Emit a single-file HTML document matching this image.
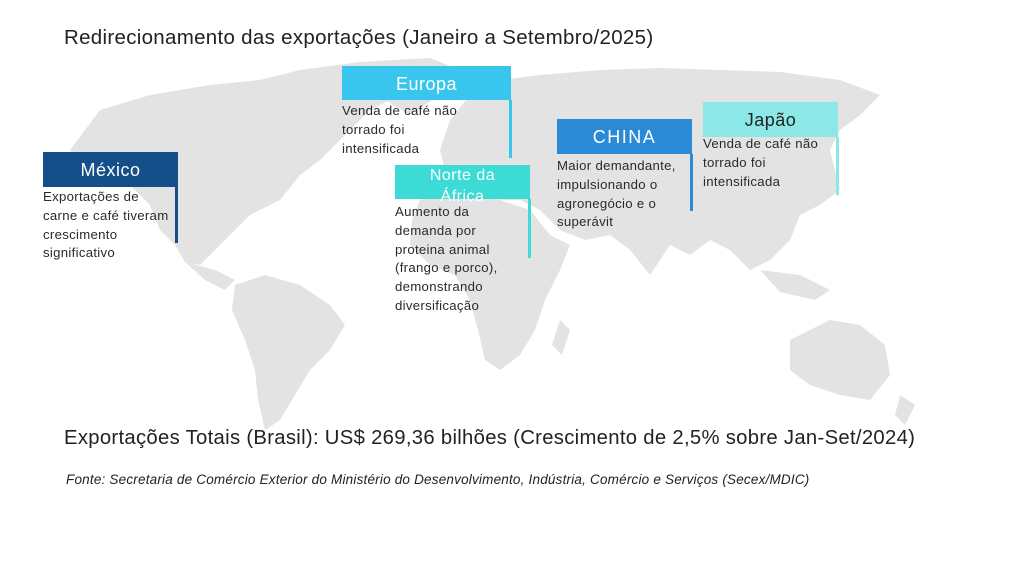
<!DOCTYPE html>
<html><head><meta charset="utf-8"><style>
body{margin:0;width:1024px;height:576px;background:#fff;position:relative;overflow:hidden;font-family:"Liberation Sans",sans-serif;}
.t{position:absolute;white-space:nowrap;color:#222}
.hd{position:absolute;color:#fff;text-align:center;font-size:18px;letter-spacing:0.5px}
.ln{position:absolute;width:3px}
.bd{position:absolute;font-size:13.2px;line-height:18.8px;color:#2a2a2a;letter-spacing:0.3px;white-space:nowrap}
</style></head><body>
<svg width="1024" height="576" style="position:absolute;left:0;top:0">
<g fill="#e3e3e3">
<path d="M70,150 L100,110 L150,95 L210,85 L260,80 L300,70 L360,62 L420,62 L430,75 L400,95 L370,110 L340,140 L320,160 L300,175 L280,200 L250,215 L230,235 L215,250 L200,265 L185,262 L175,245 L160,230 L150,205 L130,185 L110,170 L85,165 Z"/>
<path d="M240,100 L300,90 L330,110 L310,140 L280,150 L255,130 Z"/>
<path d="M185,262 L215,270 L235,280 L225,290 L205,280 Z"/>
<path d="M360,62 L430,58 L460,70 L440,95 L410,115 L385,100 Z"/>
<path d="M235,285 L265,275 L300,285 L330,305 L345,325 L330,350 L310,370 L295,395 L280,420 L265,430 L258,400 L255,370 L245,340 L232,310 Z"/>
<path d="M440,150 L450,120 L470,95 L500,80 L540,75 L600,70 L660,68 L720,70 L780,72 L840,80 L880,95 L860,115 L840,130 L830,150 L840,190 L820,205 L800,215 L790,240 L770,260 L750,270 L730,250 L710,240 L690,255 L670,245 L650,275 L630,250 L610,235 L585,240 L560,230 L540,210 L520,200 L500,200 L480,190 L460,180 L445,170 Z"/>
<path d="M420,200 L460,190 L500,200 L530,210 L550,235 L570,245 L560,270 L545,300 L535,330 L520,355 L500,370 L485,360 L478,330 L470,300 L455,275 L430,265 L410,245 L412,220 Z"/>
<path d="M560,320 L570,330 L562,355 L552,345 Z"/>
<path d="M760,270 L800,275 L830,290 L815,300 L780,292 Z"/>
<path d="M790,340 L830,320 L860,325 L885,345 L890,375 L870,400 L840,395 L810,385 L790,370 Z"/>
<path d="M900,395 L915,405 L905,425 L895,415 Z"/>
</g>
</svg>
<div class="t" style="left:64px;top:26px;font-size:20.5px;letter-spacing:0.3px">Redirecionamento das exportações (Janeiro a Setembro/2025)</div>

<div class="hd" style="left:43px;top:152px;width:135px;height:35px;line-height:37px;background:#154f8a">México</div>
<div class="ln" style="left:175px;top:187px;height:56px;background:#154f8a"></div>
<div class="bd" style="left:43px;top:188px">Exportações de<br>carne e café tiveram<br>crescimento<br>significativo</div>

<div class="hd" style="left:342px;top:66px;width:169px;height:34px;line-height:36px;background:#38c6ee">Europa</div>
<div class="ln" style="left:509px;top:100px;height:58px;background:#38c6ee"></div>
<div class="bd" style="left:342px;top:102px">Venda de café não<br>torrado foi<br>intensificada</div>

<div class="hd" style="left:395px;top:165px;width:135px;height:34px;line-height:21px;background:#3ddbd6;font-size:16px">Norte da<br>África</div>
<div class="ln" style="left:528px;top:199px;height:59px;background:#3ddbd6"></div>
<div class="bd" style="left:395px;top:203px">Aumento da<br>demanda por<br>proteina animal<br>(frango e porco),<br>demonstrando<br>diversificação</div>

<div class="hd" style="left:557px;top:119px;width:135px;height:35px;line-height:37px;background:#2b8ad6;letter-spacing:1.5px">CHINA</div>
<div class="ln" style="left:690px;top:154px;height:57px;background:#2b8ad6"></div>
<div class="bd" style="left:557px;top:157px">Maior demandante,<br>impulsionando o<br>agronegócio e o<br>superávit</div>

<div class="hd" style="left:703px;top:102px;width:135px;height:35px;line-height:37px;background:#8be8e6;color:#222">Japão</div>
<div class="ln" style="left:836px;top:137px;height:58px;background:#8be8e6"></div>
<div class="bd" style="left:703px;top:135px">Venda de café não<br>torrado foi<br>intensificada</div>

<div class="t" style="left:64px;top:427px;font-size:20.3px;letter-spacing:0.3px">Exportações Totais (Brasil): US$ 269,36 bilhões (Crescimento de 2,5% sobre Jan-Set/2024)</div>
<div class="t" style="left:66px;top:472px;font-size:13.5px;font-style:italic;letter-spacing:0.2px">Fonte: Secretaria de Comércio Exterior do Ministério do Desenvolvimento, Indústria, Comércio e Serviços (Secex/MDIC)</div>
</body></html>
